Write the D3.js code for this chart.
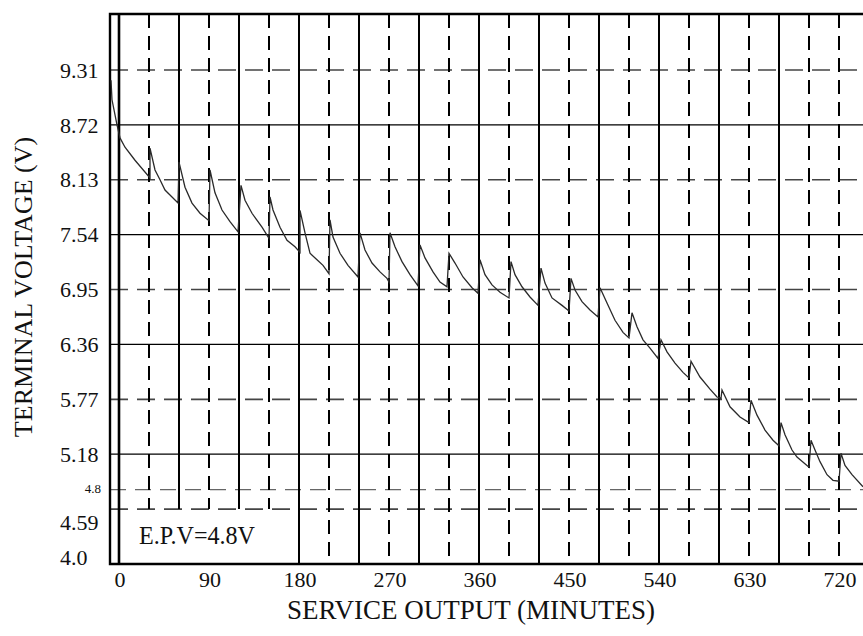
<!DOCTYPE html>
<html lang="en">
<head>
<meta charset="utf-8">
<title>Terminal voltage vs service output</title>
<script src="https://cdnjs.cloudflare.com/ajax/libs/d3/7.8.5/d3.min.js"></script>
<style>
  body { margin: 0; background: #fff; }
  text { font-family: "Liberation Serif", "Times New Roman", serif; fill: #111; }
  .curve { fill: none; stroke: #2a2a2a; stroke-width: 1.3px; }
</style>
</head>
<body>
<script>
// discharge curve (minutes, volts); two points at a jump = recovery
var serviceMinutes = [
  -8, -7, -2, 1, 6, 16, 31,
  31, 36, 41, 46, 53, 59,
  60, 66, 73, 81, 90,
  91, 96, 103, 111, 119,
  122, 126, 133, 143, 150,
  151, 154, 161, 168, 176, 181,
  181, 186, 191, 198, 204, 210,
  211, 214, 221, 229, 239,
  241, 246, 253, 261, 268, 270,
  271, 276, 283, 291, 299,
  301, 306, 314, 321, 328,
  330, 336, 344, 353, 359,
  361, 366, 373, 381, 390,
  392, 396, 403, 411, 419,
  422, 426, 433, 443, 450,
  452, 456, 463, 471, 479,
  481, 488, 496, 504, 510,
  513, 518, 524, 531, 539,
  542, 548, 556, 564, 570,
  572, 581, 591, 598, 602,
  603, 611, 621, 630,
  632, 638, 646, 654, 660,
  662, 666, 673, 678, 690,
  692, 696, 701, 708, 714, 720,
  722, 726, 733, 744
];
var terminalVolts = [
  9.20, 8.99, 8.72, 8.58, 8.48, 8.34, 8.15,
  8.47, 8.235, 8.13, 8.02, 7.945, 7.88,
  8.32, 8.05, 7.88, 7.77, 7.69,
  8.235, 7.99, 7.805, 7.68, 7.57,
  8.07, 7.91, 7.77, 7.62, 7.50,
  7.945, 7.805, 7.62, 7.48, 7.41, 7.35,
  7.80, 7.56, 7.34, 7.27, 7.21, 7.12,
  7.70, 7.515, 7.34, 7.21, 7.085,
  7.56, 7.375, 7.235, 7.14, 7.07, 7.03,
  7.56, 7.41, 7.25, 7.11, 6.99,
  7.43, 7.29, 7.14, 7.03, 6.98,
  7.34, 7.235, 7.085, 6.97, 6.91,
  7.27, 7.11, 7.00, 6.92, 6.86,
  7.25, 7.11, 6.98, 6.87, 6.78,
  7.18, 7.02, 6.86, 6.78, 6.72,
  7.07, 6.945, 6.82, 6.73, 6.655,
  6.97, 6.805, 6.62, 6.49, 6.43,
  6.70, 6.55, 6.41, 6.32, 6.21,
  6.41, 6.28, 6.16, 6.06, 6.00,
  6.18, 6.01, 5.88, 5.795, 5.78,
  5.87, 5.69, 5.58, 5.52,
  5.76, 5.60, 5.44, 5.33, 5.27,
  5.52, 5.39, 5.225, 5.15, 5.04,
  5.33, 5.225, 5.10, 4.96, 4.90, 4.89,
  5.19, 5.06, 4.96, 4.83
];

// axis labels and grid
var voltTicks = [9.31, 8.72, 8.13, 7.54, 6.95, 6.36, 5.77, 5.18, 4.59];
var voltLabels = ["9.31", "8.72", "8.13", "7.54", "6.95", "6.36", "5.77", "5.18", "4.59", "4.0"];
var minuteTicks = [0, 90, 180, 270, 360, 450, 540, 630, 720];
var gridMinutes = d3.range(0, 721, 30);
var endPointVolts = 4.8;

var width = 863, height = 636;
var plotLeft = 110, plotTop = 14, plotBottom = 564, plotRight = 863;

var x = d3.scaleLinear().domain([-9, 744]).range([plotLeft, plotRight]);
var y = d3.scaleLinear().domain([4.0, 9.912]).range([plotBottom, plotTop]);

var svg = d3.select("body").append("svg")
    .attr("width", width)
    .attr("height", height);

svg.append("rect").attr("width", width).attr("height", height).attr("fill", "#fff");

var grid = svg.append("g");

// horizontal grid: dashed / solid alternating
grid.selectAll(".hline")
    .data(voltTicks)
  .enter().append("line")
    .attr("x1", plotLeft).attr("x2", plotRight)
    .attr("y1", function(d) { return y(d); })
    .attr("y2", function(d) { return y(d); })
    .attr("stroke", function(d, i) { return i % 2 === 0 ? "#444" : "#000"; })
    .attr("stroke-width", function(d, i) { return i % 2 === 0 ? 1.6 : 1.2; })
    .attr("stroke-dasharray", function(d, i) { return i % 2 === 0 ? "18,9" : null; });

// end point voltage line
grid.append("line")
    .attr("x1", plotLeft).attr("x2", plotRight)
    .attr("y1", y(endPointVolts)).attr("y2", y(endPointVolts))
    .attr("stroke", "#666").attr("stroke-width", 1.4)
    .attr("stroke-dasharray", "16,9");

// vertical grid: lines left of 180 stop at the label box
grid.selectAll(".vline")
    .data(gridMinutes)
  .enter().append("line")
    .attr("x1", function(d) { return x(d); })
    .attr("x2", function(d) { return x(d); })
    .attr("y1", plotTop)
    .attr("y2", function(d) { return (d > 0 && d < 180) ? y(4.59) : plotBottom; })
    .attr("stroke", "#000")
    .attr("stroke-width", function(d) { return d === 0 ? 2.6 : 2; })
    .attr("stroke-dasharray", function(d) {
      return ((d / 30) % 2 === 1 || d === 720) ? "14,8" : null;
    });

// frame (right side is cut off in the scan)
svg.append("path")
    .attr("d", "M" + plotRight + "," + plotTop + "H" + plotLeft + "V" + plotBottom + "H" + plotRight)
    .attr("fill", "none")
    .attr("stroke", "#000")
    .attr("stroke-width", 2.4);

// curve
var line = d3.line()
    .x(function(d) { return x(d[0]); })
    .y(function(d) { return y(d[1]); });

svg.append("path")
    .datum(d3.zip(serviceMinutes, terminalVolts))
    .attr("class", "curve")
    .attr("d", line);

// y labels
svg.selectAll(".ylab")
    .data(voltTicks.concat([4.0]))
  .enter().append("text")
    .attr("x", 60)
    .attr("y", function(d) { return y(d); })
    .attr("dy", function(d) { return d === 4.59 ? "0.95em" : (d === 4.0 ? "0.05em" : "0.35em"); })
    .style("font-size", "22px")
    .text(function(d, i) { return voltLabels[i]; });

svg.append("text")
    .attr("x", 101)
    .attr("y", y(endPointVolts))
    .attr("dy", "0.3em")
    .attr("text-anchor", "end")
    .style("font-size", "13px")
    .text("4.8");

// x labels
svg.selectAll(".xlab")
    .data(minuteTicks)
  .enter().append("text")
    .attr("x", function(d) { return x(d) + 1; })
    .attr("y", 587)
    .attr("text-anchor", "middle")
    .style("font-size", "22px")
    .text(function(d) { return d; });

// titles
svg.append("text")
    .attr("x", 471)
    .attr("y", 619)
    .attr("text-anchor", "middle")
    .style("font-size", "27px")
    .text("SERVICE OUTPUT (MINUTES)");

svg.append("text")
    .attr("transform", "translate(32,287) rotate(-90)")
    .attr("text-anchor", "middle")
    .style("font-size", "26px")
    .text("TERMINAL VOLTAGE (V)");

svg.append("text")
    .attr("x", 139)
    .attr("y", 544)
    .attr("textLength", 116)
    .attr("lengthAdjust", "spacingAndGlyphs")
    .style("font-size", "25px")
    .text("E.P.V=4.8V");
</script>
</body>
</html>
